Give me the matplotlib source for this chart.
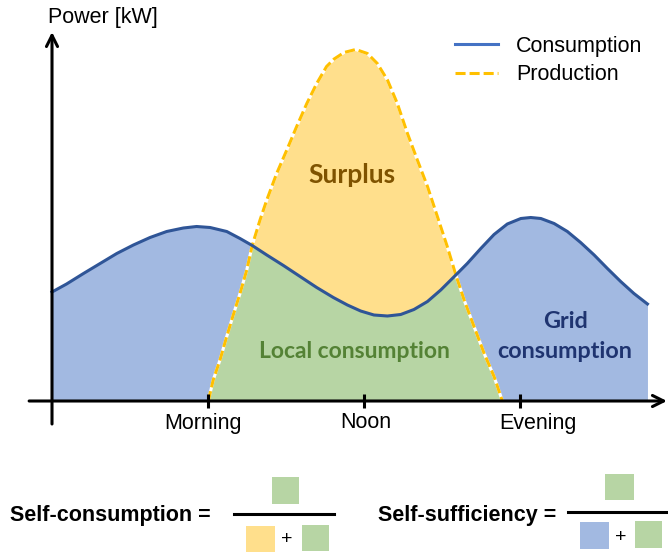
import numpy as np
import matplotlib.pyplot as plt
from matplotlib.lines import Line2D
from matplotlib.patches import Rectangle

# consumption curve (hour of day, kW)
cons_hours = [0.0, 0.56, 1.21, 1.85, 2.49, 3.13, 3.77, 4.41, 5.05, 5.56, 6.08,
              6.72, 7.23, 7.70, 8.26, 8.90, 9.54, 10.18, 10.82, 11.36, 11.87,
              12.38, 12.90, 13.41, 13.92, 14.44, 14.95, 15.53, 15.97, 16.49,
              17.0, 17.51, 18.03, 18.41, 18.80, 19.31, 19.82, 20.33, 20.85,
              21.36, 21.87, 22.38, 22.90]
cons_kw = [2.18, 2.34, 2.55, 2.75, 2.95, 3.12, 3.27, 3.39, 3.46, 3.49, 3.47,
           3.39, 3.25, 3.11, 2.92, 2.71, 2.49, 2.27, 2.07, 1.92, 1.80,
           1.72, 1.70, 1.73, 1.83, 1.99, 2.22, 2.52, 2.75, 3.05,
           3.33, 3.54, 3.65, 3.67, 3.65, 3.55, 3.39, 3.17, 2.92,
           2.65, 2.39, 2.15, 1.94]

# PV production curve
prod_hours = [6.01, 6.20, 6.46, 6.72, 6.97, 7.23, 7.49, 7.70, 8.0, 8.26, 8.64,
              9.03, 9.41, 9.80, 10.18, 10.56, 10.85, 11.23, 11.68, 12.13,
              12.51, 12.90, 13.28, 13.67, 14.05, 14.44, 14.82, 15.20, 15.53,
              15.85, 16.23, 16.62, 17.0, 17.32]
prod_kw = [0.0, 0.42, 0.82, 1.29, 1.72, 2.15, 2.62, 3.11, 3.62, 4.02, 4.55,
           5.02, 5.49, 5.95, 6.35, 6.69, 6.84, 6.97, 7.03, 6.95,
           6.75, 6.42, 5.95, 5.35, 4.82, 4.29, 3.69, 3.09, 2.52,
           2.02, 1.49, 0.95, 0.49, 0.0]

tick_hours = [6, 12, 18]
tick_labels = ['Morning', 'Noon', 'Evening']
label_shift = [-0.2, 0.08, 0.7]

BLUE_FILL = '#A2B9E1'
YELLOW_FILL = '#FFDF8C'
GREEN_FILL = '#B7D5A4'
CONS_LINE = '#2F5597'
LEGEND_BLUE = '#4472C4'
GOLD = '#FFC000'

plt.rcParams['font.family'] = ['Liberation Sans', 'DejaVu Sans']

fig = plt.figure(figsize=(6.68, 5.54), dpi=100)
ax = fig.add_axes([0, 0, 1, 1])
ax.set_xlim(-2.0, 23.69)
ax.set_ylim(-3.06, 8.02)
ax.axis('off')

# grid (blue), surplus (yellow), local consumption (green = overlap)
ax.fill_between(cons_hours, 0, cons_kw, color=BLUE_FILL, lw=0, zorder=1)
prod_fill = ax.fill_between(prod_hours, 0, prod_kw, color=YELLOW_FILL, lw=0, zorder=2)
local = ax.fill_between(cons_hours, 0, cons_kw, color=GREEN_FILL, lw=0, zorder=3)
local.set_clip_path(prod_fill.get_paths()[0], ax.transData)

ax.plot(prod_hours, prod_kw, color='white', lw=2.2, zorder=4)
ax.plot(prod_hours, prod_kw, color=GOLD, lw=2.2, dashes=(3.3, 1.3), zorder=5)
ax.plot(cons_hours, cons_kw, color=CONS_LINE, lw=2.2, zorder=6,
        solid_joinstyle='round')

# axes with arrows
arrow = dict(arrowstyle='->', lw=2.2, color='black', shrinkA=0, shrinkB=0,
             mutation_scale=20)
ax.annotate('', xy=(0, 7.38), xytext=(0, -0.46), arrowprops=arrow, zorder=7)
ax.annotate('', xy=(23.65, 0), xytext=(-0.88, 0), arrowprops=arrow, zorder=7)
ax.vlines(tick_hours, -0.14, 0.14, color='black', lw=2.2, zorder=7)
for h, lab, s in zip(tick_hours, tick_labels, label_shift):
    ax.text(h + s, -0.44, lab, ha='center', va='center', fontsize=15.5)
ax.text(-0.15, 7.66, 'Power [kW]', ha='left', va='center', fontsize=15.5)

# region labels
bold = dict(family=['Lato', 'DejaVu Sans'], fontweight='bold',
            ha='center', va='center', zorder=8)
ax.text(11.54, 4.52, 'Surplus', color='#7F5300', fontsize=19, **bold)
ax.text(11.65, 0.98, 'Local consumption', color='#548235', fontsize=16.5, **bold)
ax.text(19.73, 1.58, 'Grid', color='#1F3470', fontsize=16.8, **bold)
ax.text(19.73, 0.98, 'consumption', color='#1F3470', fontsize=16.8, **bold)

handles = [Line2D([], [], color=LEGEND_BLUE, lw=2.2),
           Line2D([], [], color=GOLD, lw=2.2, dashes=(3.3, 1.3))]
ax.legend(handles, ['Consumption', 'Production'], loc='upper left',
          bbox_to_anchor=(455 / 668, 1 - 36 / 554), bbox_transform=fig.transFigure,
          frameon=False, fontsize=15.5, handlelength=2.0, handletextpad=0.85,
          labelspacing=0.34, borderpad=0, borderaxespad=0)

# formulas below the chart (pixel layout)
ax2 = fig.add_axes([0, 0, 1, 1])
ax2.set_xlim(0, 668)
ax2.set_ylim(554, 0)
ax2.axis('off')
ax2.patch.set_alpha(0)

def square(x0, y0, x1, y1, c):
    ax2.add_patch(Rectangle((x0, y0), x1 - x0, y1 - y0, color=c, lw=0))

ax2.text(10, 515, 'Self-consumption =', fontsize=15.5, fontweight='bold',
         ha='left', va='center')
ax2.plot([234, 334], [514, 514], color='black', lw=2.2)
square(272, 477, 299, 504, GREEN_FILL)
square(246, 526, 275, 552, YELLOW_FILL)
ax2.text(287, 540, '+', fontsize=14, ha='center', va='center')
square(302, 525, 329, 551, GREEN_FILL)

ax2.text(378, 515, 'Self-sufficiency =', fontsize=15.5, fontweight='bold',
         ha='left', va='center')
ax2.plot([568, 668], [512, 512], color='black', lw=2.2)
square(605, 474, 634, 500, GREEN_FILL)
square(580, 522, 609, 549, BLUE_FILL)
ax2.text(621, 537, '+', fontsize=14, ha='center', va='center')
square(635, 521, 662, 548, GREEN_FILL)

fig.savefig('out.png', dpi=100)
